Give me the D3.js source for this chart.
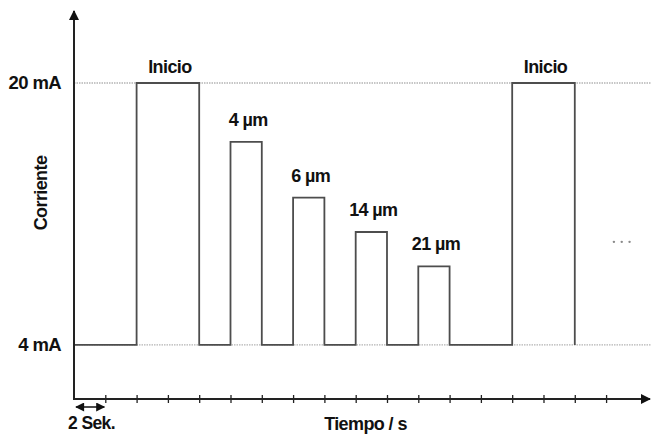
<!DOCTYPE html>
<html>
<head>
<meta charset="utf-8">
<script src="https://cdn.jsdelivr.net/npm/d3@7"></script>
<style>
  html, body { margin: 0; padding: 0; background: #fff; }
  svg { display: block; }
  text { font-family: "Liberation Sans", Arial, Helvetica, sans-serif; font-weight: bold; fill: #111; letter-spacing: -0.6px; }
</style>
</head>
<body>
<svg id="chart" width="651" height="439"></svg>
<script>
// ---- data ----
const pulseLabels = ["Inicio", "4 µm", "6 µm", "14 µm", "21 µm", "Inicio"];
const pulseStart  = [4, 10, 14, 18, 22, 28];   // s
const pulseEnd    = [8, 12, 16, 20, 24, 32];   // s
const pulseValue  = [20, 16.4, 13.0, 10.9, 8.8, 20]; // mA
const baseLevel   = 4;   // mA
const levelTicks  = [20, 4];
const levelLabels = ["20 mA", "4 mA"];
const timeTicks   = [2, 4, 6, 8, 10, 12, 14, 16, 18, 20, 22, 24, 26, 28, 30, 32, 34];
const scaleBar    = [0, 2];  // "2 Sek."
const ellipsisT   = [34.5, 35, 35.5];
const ellipsisI   = 10.3;

// ---- layout ----
const svg = d3.select("#chart");
const x = d3.scaleLinear().domain([0, 36.87]).range([74, 651]);
const y = d3.scaleLinear().domain([0.7, 24.46]).range([399, 10]);

// dotted reference lines
svg.selectAll("line.ref").data(levelTicks).enter().append("line")
  .attr("class", "ref")
  .attr("x1", x(0)).attr("x2", x.range()[1])
  .attr("y1", d => y(d)).attr("y2", d => y(d))
  .attr("stroke", "#b4b4b4").attr("stroke-width", 1.3)
  .attr("stroke-dasharray", "1.5,1");

// signal path
const pts = [[0, baseLevel]];
pulseStart.forEach((s, i) => {
  pts.push([s, baseLevel]);
  pts.push([s, pulseValue[i]]);
  pts.push([pulseEnd[i], pulseValue[i]]);
  pts.push([pulseEnd[i], baseLevel]);
});
const line = d3.line().x(d => x(d[0])).y(d => y(d[1]));
svg.append("path").datum(pts)
  .attr("d", line)
  .attr("fill", "none")
  .attr("stroke", "#4d4d4d")
  .attr("stroke-width", 1.8)
  .attr("stroke-linejoin", "miter");

// pulse labels
svg.selectAll("text.plabel").data(pulseLabels).enter().append("text")
  .attr("class", "plabel")
  .attr("x", (d, i) => (x(pulseStart[i]) + x(pulseEnd[i])) / 2 + 2)
  .attr("y", (d, i) => y(pulseValue[i]) - (pulseValue[i] === 20 ? 10 : 16))
  .attr("text-anchor", "middle")
  .attr("font-size", 18)
  .text(d => d);

// arrowhead markers
const defs = svg.append("defs");
defs.append("marker").attr("id", "arr")
  .attr("viewBox", "0 0 10 10").attr("refX", 9).attr("refY", 5)
  .attr("markerWidth", 5).attr("markerHeight", 5)
  .attr("markerUnits", "strokeWidth")
  .attr("orient", "auto-start-reverse")
  .append("path").attr("d", "M0,0 L10,5 L0,10 Z").attr("fill", "#111");
defs.append("marker").attr("id", "arrs")
  .attr("viewBox", "0 0 10 10").attr("refX", 9).attr("refY", 5)
  .attr("markerWidth", 7).attr("markerHeight", 6)
  .attr("markerUnits", "strokeWidth")
  .attr("orient", "auto-start-reverse")
  .append("path").attr("d", "M0,0 L10,5 L0,10 Z").attr("fill", "#111");

// x axis (ticks crossing the line)
const xAxis = d3.axisBottom(x).tickValues(timeTicks).tickFormat("").tickSize(4);
const gx = svg.append("g").attr("transform", `translate(0,${y.range()[0]})`).call(xAxis);
gx.select(".domain").remove();
gx.selectAll(".tick line").attr("y1", -4).attr("y2", 4)
  .attr("stroke", "#222").attr("stroke-width", 1.3);
svg.append("line")
  .attr("x1", x(0) - 1).attr("x2", x.range()[1] - 1)
  .attr("y1", y.range()[0]).attr("y2", y.range()[0])
  .attr("stroke", "#222").attr("stroke-width", 2)
  .attr("marker-end", "url(#arr)");

// y axis
const yAxis = d3.axisLeft(y).tickValues(levelTicks).tickFormat((d, i) => levelLabels[i]).tickSize(0).tickPadding(13);
const gy = svg.append("g").attr("transform", `translate(${x(0)},0)`).call(yAxis);
gy.select(".domain").remove();
gy.selectAll(".tick text")
  .attr("font-size", 18.5)
  .attr("font-family", "'Liberation Sans', Arial, sans-serif")
  .attr("font-weight", "bold")
  .attr("fill", "#111");
svg.append("line")
  .attr("x1", x(0)).attr("x2", x(0))
  .attr("y1", y.range()[0] + 1).attr("y2", y.range()[1] + 1)
  .attr("stroke", "#222").attr("stroke-width", 2)
  .attr("marker-end", "url(#arr)");

// axis titles
svg.append("text")
  .attr("transform", "translate(47,193) rotate(-90)")
  .attr("text-anchor", "middle").attr("font-size", 18)
  .text("Corriente");
svg.append("text")
  .attr("x", 365.5).attr("y", 430)
  .attr("text-anchor", "middle").attr("font-size", 18)
  .text("Tiempo / s");

// scale bar "2 Sek."
const sbY = 407;
svg.append("line")
  .attr("x1", x(scaleBar[0]) + 2).attr("x2", x(scaleBar[1]) - 1)
  .attr("y1", sbY).attr("y2", sbY)
  .attr("stroke", "#111").attr("stroke-width", 1.5)
  .attr("marker-start", "url(#arrs)").attr("marker-end", "url(#arrs)");
svg.append("text")
  .attr("x", 68).attr("y", 429)
  .attr("font-size", 17.5)
  .text("2 Sek.");

// ellipsis
svg.selectAll("circle.dot").data(ellipsisT).enter().append("circle")
  .attr("class", "dot")
  .attr("cx", d => x(d)).attr("cy", y(ellipsisI))
  .attr("r", 1.2).attr("fill", "#8a8a8a");
</script>
</body>
</html>
